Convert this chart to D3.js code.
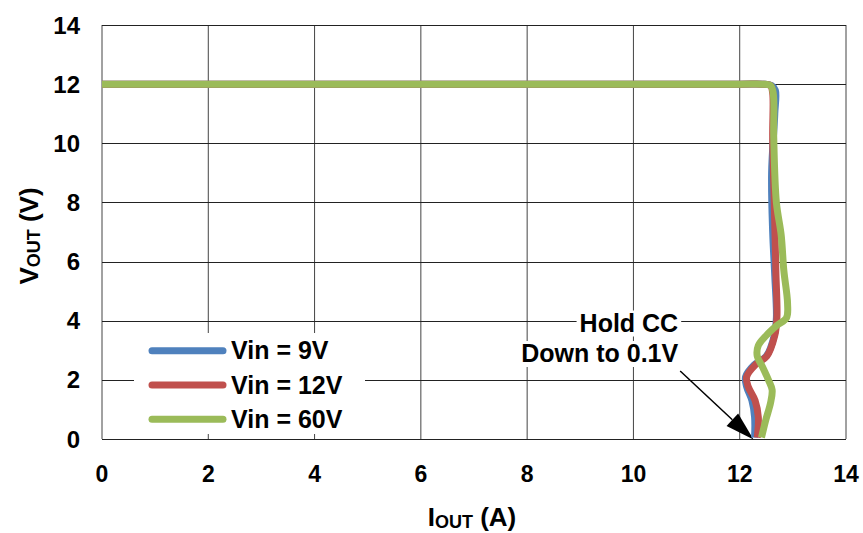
<!DOCTYPE html>
<html>
<head>
<meta charset="utf-8">
<script src="https://cdn.jsdelivr.net/npm/d3@7"></script>
<style>
  body { margin: 0; background: #fff; }
  text { font-family: "Liberation Sans", Arial, sans-serif; font-weight: bold; }
</style>
</head>
<body>
<div class="graphic"></div>
<script>
// tick values for both axes
const xTicks = [0, 2, 4, 6, 8, 10, 12, 14]
const yTicks = [0, 2, 4, 6, 8, 10, 12, 14]

// series names + colours
const seriesNames = ["Vin = 9V", "Vin = 12V", "Vin = 60V"]
const seriesColors = ["#4F81BD", "#C0504D", "#9BBB59"]

// [IOUT (A), VOUT (V)]
const vin9 = [[0, 12], [12.0, 12], [12.45, 12], [12.6, 11.95], [12.67, 11.8], [12.66, 11], [12.6, 9],
  [12.62, 7], [12.66, 5.5], [12.69, 4.1], [12.65, 3.5], [12.5, 2.8], [12.27, 2.5], [12.11, 2.1],
  [12.13, 1.77], [12.23, 1.3], [12.28, 0.74], [12.28, 0.05]]
const vin12 = [[0, 12], [12.0, 12], [12.42, 12], [12.58, 11.95], [12.62, 11.7], [12.62, 10.2],
  [12.65, 8], [12.68, 5.7], [12.7, 4.1], [12.66, 3.5], [12.51, 2.8], [12.29, 2.5], [12.13, 2.1],
  [12.16, 1.77], [12.29, 1.3], [12.35, 0.74], [12.33, 0.05]]
const vin60 = [[0, 12], [12.0, 12], [12.42, 12], [12.58, 11.95], [12.63, 11.7], [12.64, 10.2],
  [12.69, 8], [12.78, 6.9], [12.83, 5.7], [12.9, 4.6], [12.88, 4.1], [12.7, 3.84], [12.5, 3.5],
  [12.35, 3.16], [12.33, 2.8], [12.42, 2.47], [12.54, 2.0], [12.61, 1.66], [12.58, 1.22],
  [12.49, 0.64], [12.41, 0.05]]
const allSeries = [vin9, vin12, vin60]

// annotation
const noteLines = ["Hold CC", "Down to 0.1V"]
const arrowFrom = [10.88, 2.3]
const arrowTo = [12.26, -0.02]

const W = 863, H = 533
const svg = d3.select(".graphic")
  .append("svg")
  .attr("width", W)
  .attr("height", H)

const xScale = d3.scaleLinear().domain([0, 14]).range([102, 846])
const yScale = d3.scaleLinear().domain([0, 14]).range([439, 25])

const gridColor = "#444"

// grid lines
svg.append("g")
  .selectAll("line")
  .data(xTicks)
  .join("line")
    .attr("x1", d => xScale(d)).attr("x2", d => xScale(d))
    .attr("y1", yScale(14)).attr("y2", yScale(0))
    .attr("stroke", gridColor).attr("stroke-width", 1)

svg.append("g")
  .selectAll("line")
  .data(yTicks)
  .join("line")
    .attr("x1", xScale(0)).attr("x2", xScale(14))
    .attr("y1", d => Math.round(yScale(d)) + 0.5).attr("y2", d => Math.round(yScale(d)) + 0.5)
    .attr("stroke", "#222").attr("stroke-width", 1)

// tick labels
svg.append("g")
  .selectAll("text")
  .data(yTicks)
  .join("text")
    .text(d => d)
    .attr("x", 80)
    .attr("y", d => yScale(d) + 8.5)
    .attr("text-anchor", "end")
    .attr("font-size", 24)

svg.append("g")
  .selectAll("text")
  .data(xTicks)
  .join("text")
    .text(d => d)
    .attr("x", d => xScale(d))
    .attr("y", 481.5)
    .attr("text-anchor", "middle")
    .attr("font-size", 23)

// axis titles
const yTitle = svg.append("text")
  .attr("transform", "translate(38,236) rotate(-90)")
  .attr("text-anchor", "middle")
  .attr("font-size", 26)
yTitle.append("tspan").text("V")
yTitle.append("tspan").text("OUT").attr("font-size", 18).attr("dy", 2)
yTitle.append("tspan").text(" (V)").attr("dy", -2)

const xTitle = svg.append("text")
  .attr("x", 472)
  .attr("y", 526)
  .attr("text-anchor", "middle")
  .attr("font-size", 26)
xTitle.append("tspan").text("I")
xTitle.append("tspan").text("OUT").attr("font-size", 18).attr("dy", 2)
xTitle.append("tspan").text(" (A)").attr("dy", -2)

// legend box (white, covers grid)
svg.append("rect")
  .attr("x", 134).attr("y", 333)
  .attr("width", 231).attr("height", 101)
  .attr("fill", "#fff")

const legend = svg.append("g")
  .selectAll("g")
  .data(seriesNames)
  .join("g")
    .attr("transform", (d, i) => `translate(0,${350.7 + i * 34.3})`)

legend.append("line")
  .attr("x1", 152).attr("x2", 223)
  .attr("stroke", (d, i) => seriesColors[i])
  .attr("stroke-width", 7)
  .attr("stroke-linecap", "round")

legend.append("text")
  .text(d => d)
  .attr("x", 231)
  .attr("y", 8.5)
  .attr("font-size", 25)

// annotation text with white background
const noteX = xScale(arrowFrom[0]) - 2
const noteG = svg.append("g")
noteLines.forEach((t, i) => {
  const txt = noteG.append("text")
    .text(t)
    .attr("x", noteX)
    .attr("y", 331.5 + i * 30.5)
    .attr("text-anchor", "end")
    .attr("font-size", 25)
  const bb = txt.node().getBBox()
  noteG.insert("rect", "text")
    .attr("x", bb.x - 3).attr("y", bb.y + 2)
    .attr("width", bb.width + 6).attr("height", bb.height - 2)
    .attr("fill", "#fff")
})

// arrow: shaft + filled head
const ax1 = xScale(arrowFrom[0]), ay1 = yScale(arrowFrom[1])
const ax2 = xScale(arrowTo[0]), ay2 = yScale(arrowTo[1])
const ang = Math.atan2(ay2 - ay1, ax2 - ax1)
const headLen = 29, headHalf = 8.5
const bx = ax2 - headLen * Math.cos(ang), by = ay2 - headLen * Math.sin(ang)

svg.append("line")
  .attr("x1", ax1).attr("y1", ay1)
  .attr("x2", bx).attr("y2", by)
  .attr("stroke", "#000")
  .attr("stroke-width", 1.5)

svg.append("path")
  .attr("d", d3.line()([
    [ax2, ay2],
    [bx + headHalf * Math.sin(ang), by - headHalf * Math.cos(ang)],
    [bx - headHalf * Math.sin(ang), by + headHalf * Math.cos(ang)]
  ]) + "Z")
  .attr("fill", "#000")

// curves
const line = d3.line()
  .x(d => xScale(d[0]))
  .y(d => yScale(d[1]))
  .curve(d3.curveCatmullRom.alpha(0.5))

svg.append("g")
  .selectAll("path")
  .data(allSeries)
  .join("path")
    .attr("d", line)
    .attr("fill", "none")
    .attr("stroke", (d, i) => seriesColors[i])
    .attr("stroke-width", 7)
    .attr("stroke-linecap", "butt")
    .attr("stroke-linejoin", "round")
</script>
</body>
</html>
